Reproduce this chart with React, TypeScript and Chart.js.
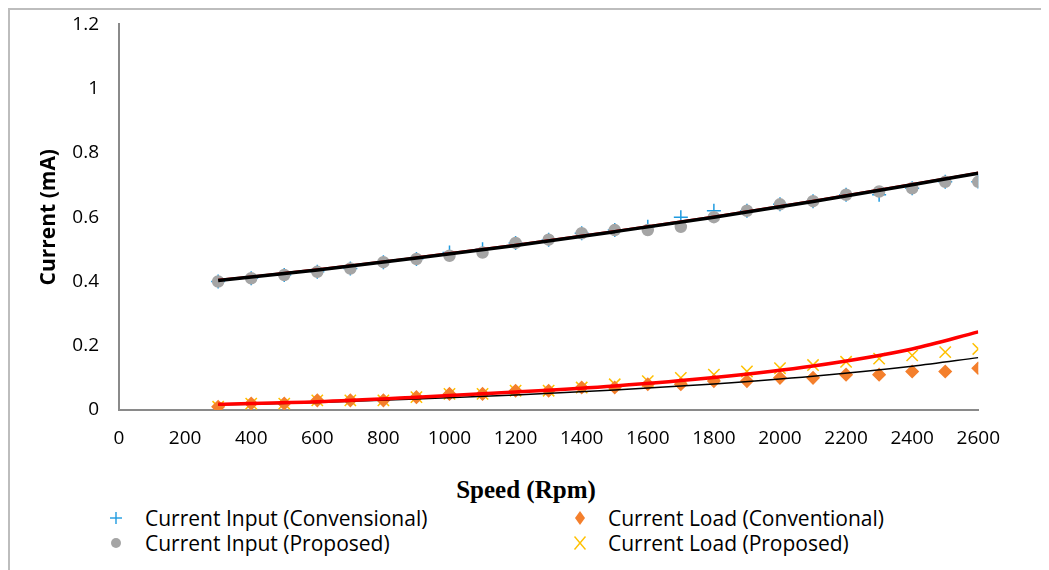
import React, { useEffect, useRef } from "react";
import { Chart, registerables } from "chart.js";

Chart.register(...registerables);

// Speeds (Rpm)
const speeds = [300, 400, 500, 600, 700, 800, 900, 1000, 1100, 1200, 1300, 1400, 1500, 1600, 1700, 1800, 1900, 2000, 2100, 2200, 2300, 2400, 2500, 2600];

const inputConv = [0.40, 0.41, 0.42, 0.43, 0.44, 0.46, 0.47, 0.49, 0.50, 0.52, 0.53, 0.55, 0.56, 0.57, 0.60, 0.62, 0.62, 0.64, 0.65, 0.67, 0.67, 0.69, 0.71, 0.71];
const inputProp = [0.40, 0.41, 0.42, 0.43, 0.44, 0.46, 0.47, 0.48, 0.49, 0.52, 0.53, 0.55, 0.56, 0.56, 0.57, 0.60, 0.62, 0.64, 0.65, 0.67, 0.68, 0.69, 0.71, 0.71];
const loadConv = [0.01, 0.02, 0.02, 0.03, 0.03, 0.03, 0.04, 0.05, 0.05, 0.06, 0.06, 0.07, 0.07, 0.08, 0.08, 0.09, 0.09, 0.10, 0.10, 0.11, 0.11, 0.12, 0.12, 0.13];
const loadProp = [0.01, 0.02, 0.02, 0.03, 0.03, 0.03, 0.04, 0.05, 0.05, 0.06, 0.06, 0.07, 0.08, 0.09, 0.10, 0.11, 0.12, 0.13, 0.14, 0.15, 0.16, 0.17, 0.18, 0.19];

// Trendlines
const trendX = [300, 600, 900, 1200, 1500, 1800, 2100, 2400, 2600];
const upperTrendBlack = [0.403, 0.436, 0.473, 0.512, 0.555, 0.600, 0.649, 0.701, 0.737];
const upperTrendRed = [0.405, 0.438, 0.475, 0.514, 0.557, 0.602, 0.651, 0.703, 0.739];
const lowerTrendRed = [0.018, 0.026, 0.040, 0.056, 0.075, 0.101, 0.137, 0.190, 0.243];
const lowerTrendBlack = [0.016, 0.023, 0.034, 0.047, 0.062, 0.081, 0.105, 0.136, 0.163];

const legendLabels = ["Current Input (Convensional)", "Current Load (Conventional)", "Current Input (Proposed)", "Current Load (Proposed)"];
const xTitle = "Speed (Rpm)";
const yTitle = "Current (mA)";

const BLUE = "#1f9be0";
const GRAY = "#a5a5a5";
const ORANGE = "#f47f2c";
const YELLOW = "#ffc000";

const pts = (xs: number[], ys: number[]) => xs.map((x, i) => ({ x, y: ys[i] }));

const SANS = "'Open Sans', 'Noto Sans', sans-serif";

function Marker({ kind }: { kind: string }) {
  if (kind === "plus")
    return (
      <svg width="16" height="16" viewBox="0 0 16 16">
        <line x1="2" y1="8" x2="14" y2="8" stroke={BLUE} strokeWidth="1.4" />
        <line x1="8" y1="2" x2="8" y2="14" stroke={BLUE} strokeWidth="1.4" />
      </svg>
    );
  if (kind === "circle")
    return (
      <svg width="16" height="16" viewBox="0 0 16 16">
        <circle cx="8" cy="8" r="5" fill={GRAY} />
      </svg>
    );
  if (kind === "diamond")
    return (
      <svg width="16" height="16" viewBox="0 0 16 16">
        <polygon points="8,1 13,8 8,15 3,8" fill={ORANGE} />
      </svg>
    );
  return (
    <svg width="16" height="16" viewBox="0 0 16 16">
      <line x1="2.5" y1="1.5" x2="13.5" y2="14.5" stroke={YELLOW} strokeWidth="1.4" />
      <line x1="13.5" y1="1.5" x2="2.5" y2="14.5" stroke={YELLOW} strokeWidth="1.4" />
    </svg>
  );
}

function LegendItem({ mx, tx, my, kind, text }: { mx: number; tx: number; my: number; kind: string; text: string }) {
  return (
    <>
      <div style={{ position: "absolute", left: mx - 8, top: my - 8, width: 16, height: 16, lineHeight: 0 }}>
        <Marker kind={kind} />
      </div>
      <div
        style={{
          position: "absolute",
          left: tx,
          top: my - 14,
          height: 28,
          lineHeight: "28px",
          fontFamily: SANS,
          fontSize: 21,
          color: "#000",
          whiteSpace: "nowrap",
        }}
      >
        {text}
      </div>
    </>
  );
}

export default function App() {
  const ref = useRef<HTMLCanvasElement | null>(null);

  useEffect(() => {
    if (!ref.current) return;
    const scatterBase = { showLine: false, pointBorderWidth: 1.5 };
    const lineBase = { showLine: true, pointRadius: 0, cubicInterpolationMode: "monotone" as const, fill: false };
    const chart = new Chart(ref.current, {
      type: "scatter",
      data: {
        datasets: [
          { ...lineBase, label: "t4", data: pts(trendX, lowerTrendRed), borderColor: "#ff0000", borderWidth: 3.5, order: 0 },
          { ...lineBase, label: "t3", data: pts(trendX, lowerTrendBlack), borderColor: "#000000", borderWidth: 1.5, order: 1 },
          { ...lineBase, label: "t2", data: pts(trendX, upperTrendBlack), borderColor: "#000000", borderWidth: 3.5, order: 1 },
          { ...lineBase, label: "t1", data: pts(trendX, upperTrendRed), borderColor: "#ff0000", borderWidth: 2, order: 2 },
          {
            ...scatterBase, label: legendLabels[2], data: pts(speeds, inputProp), pointStyle: "circle",
            pointRadius: 5.5, backgroundColor: GRAY, borderColor: GRAY, order: 3,
          },
          {
            ...scatterBase, label: legendLabels[0], data: pts(speeds, inputConv), pointStyle: "cross",
            pointRadius: 7, backgroundColor: BLUE, borderColor: BLUE, order: 4,
          },
          {
            ...scatterBase, label: legendLabels[1], data: pts(speeds, loadConv), pointStyle: "rectRot",
            pointRadius: 6, backgroundColor: ORANGE, borderColor: ORANGE, order: 3,
          },
          {
            ...scatterBase, label: legendLabels[3], data: pts(speeds, loadProp), pointStyle: "crossRot",
            pointRadius: 8, backgroundColor: YELLOW, borderColor: YELLOW, order: 4,
          },
        ],
      },
      options: {
        responsive: false,
        animation: false,
        layout: { padding: { left: 0, right: 29, top: 13, bottom: 0 } },
        plugins: { legend: { display: false }, tooltip: { enabled: false } },
        scales: {
          x: {
            type: "linear",
            min: 0,
            max: 2600,
            grid: { display: false, drawTicks: false },
            border: { display: true, color: "#8a8a8a", width: 2 },
            ticks: {
              stepSize: 200,
              padding: 17,
              color: "#000",
              font: { family: SANS, size: 19 },
              maxRotation: 0,
              autoSkip: false,
              callback: (v: any) => String(v),
            },
            afterFit: (s: any) => { s.height = 50; },
          },
          y: {
            type: "linear",
            min: 0,
            max: 1.2,
            grid: { display: false, drawTicks: false },
            border: { display: true, color: "#8a8a8a", width: 2 },
            ticks: {
              stepSize: 0.2,
              padding: 20,
              color: "#000",
              font: { family: SANS, size: 19 },
              callback: (v: any) => String(Number(Number(v).toFixed(1))),
            },
            title: {
              display: true,
              text: yTitle,
              color: "#000",
              font: { family: SANS, size: 21, weight: "bold" },
              padding: { top: 26, bottom: 0 },
            },
            afterFit: (s: any) => { s.width = 109; },
          },
        },
      },
    });
    return () => chart.destroy();
  }, []);

  return (
    <div
      style={{
        position: "relative",
        width: 1041,
        height: 562,
        boxSizing: "border-box",
        borderTop: "2px solid #bdbdbd",
        borderLeft: "2px solid #bdbdbd",
        background: "#fff",
        overflow: "hidden",
      }}
    >
      <canvas ref={ref} width={1007} height={467} style={{ position: "absolute", left: 0, top: -17 }} />
      <div
        style={{
          position: "absolute",
          left: 366,
          width: 300,
          top: 465,
          height: 30,
          lineHeight: "30px",
          textAlign: "center",
          fontFamily: "'Liberation Serif', serif",
          fontWeight: "bold",
          fontSize: 25,
          color: "#000",
        }}
      >
        {xTitle}
      </div>
      <LegendItem mx={106} tx={135} my={508} kind="plus" text={legendLabels[0]} />
      <LegendItem mx={570} tx={598} my={508} kind="diamond" text={legendLabels[1]} />
      <LegendItem mx={106} tx={135} my={533} kind="circle" text={legendLabels[2]} />
      <LegendItem mx={570} tx={598} my={533} kind="x" text={legendLabels[3]} />
    </div>
  );
}
